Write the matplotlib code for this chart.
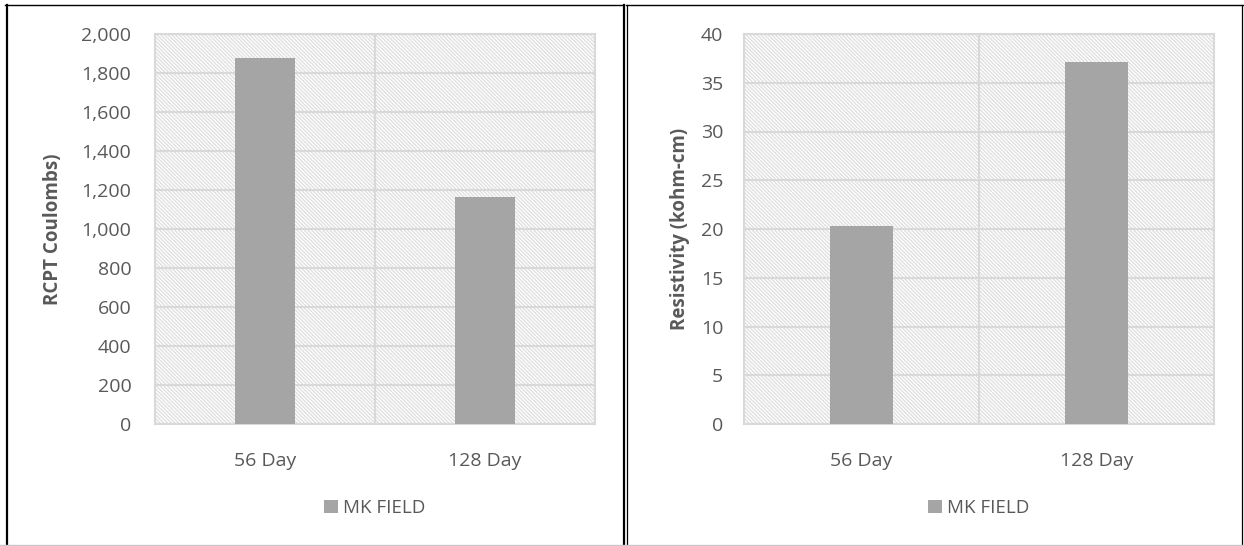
import matplotlib.pyplot as plt
from matplotlib.lines import Line2D
from matplotlib.patches import Rectangle, Patch

# data
categories = ['56 Day', '128 Day']
rcpt_values = [1877, 1165]
resistivity_values = [20.3, 37.1]
series_name = 'MK FIELD'

rcpt_ticks = [0, 200, 400, 600, 800, 1000, 1200, 1400, 1600, 1800, 2000]
res_ticks = [0, 5, 10, 15, 20, 25, 30, 35, 40]

bar_color = '#a5a5a5'
grid_color = '#d9d9d9'
text_color = '#595959'

plt.rcParams['font.family'] = ['Open Sans', 'DejaVu Sans']
plt.rcParams['hatch.color'] = '#e0e0e0'
plt.rcParams['hatch.linewidth'] = 1.0

W, H = 1244, 546
fig = plt.figure(figsize=(W / 100, H / 100), dpi=100)


def px(x0, y0, w, h):
    # pixel box (top-left origin) -> figure fraction
    return [x0 / W, 1 - (y0 + h) / H, w / W, h / H]


def draw_panel(ax, values, ticks, ylabel, fmt, ypad, lpad):
    ax.add_patch(Rectangle((0, 0), 1, 1, transform=ax.transAxes,
                           facecolor='white', edgecolor='#e0e0e0', lw=0,
                           hatch='\\' * 9, zorder=0))
    x = list(range(len(categories)))
    ax.bar(x, values, width=0.27, color=bar_color, zorder=3, label=series_name)
    ax.set_xlim(-0.5, len(categories) - 0.5)
    ax.set_ylim(ticks[0], ticks[-1])
    ax.set_yticks(ticks)
    ax.set_yticklabels([fmt(t) for t in ticks])
    ax.set_xticks(x)
    ax.set_xticklabels(categories)
    ax.set_xticks([0.5], minor=True)
    ax.grid(axis='y', color=grid_color, lw=1.5, zorder=1)
    ax.grid(axis='x', which='minor', color=grid_color, lw=1.5, zorder=1)
    ax.set_axisbelow(True)
    for s in ax.spines.values():
        s.set_color(grid_color)
        s.set_linewidth(1.5)
    ax.tick_params(axis='y', length=0, pad=ypad, labelsize=14, labelcolor=text_color)
    ax.tick_params(axis='x', which='both', length=0, pad=20, labelsize=14,
                   labelcolor=text_color)
    ax.set_ylabel(ylabel, fontsize=13.5, fontweight='bold', color=text_color,
                  labelpad=lpad)
    ax.legend(handles=[Patch(facecolor=bar_color, label=series_name)],
              loc='center', bbox_to_anchor=(0.5, -0.215), frameon=False,
              fontsize=13.5, handlelength=0.7, handleheight=0.7,
              handletextpad=0.3, labelcolor=text_color)


ax1 = fig.add_axes(px(155, 34, 440, 390))
draw_panel(ax1, rcpt_values, rcpt_ticks, 'RCPT Coulombs)',
           lambda t: f'{t:,}', 17, 13)

ax2 = fig.add_axes(px(744, 34, 470, 390))
draw_panel(ax2, resistivity_values, res_ticks, 'Resistivity (kohm-cm)',
           lambda t: f'{t}', 15, 8)


def fline(x0, y0, x1, y1, color='black', lw=1.0):
    fig.add_artist(Line2D([x0 / W, x1 / W], [1 - y0 / H, 1 - y1 / H],
                          transform=fig.transFigure, color=color, lw=lw))


# panel frames
fline(5, 5, 623, 5, lw=1.0)
fline(6.5, 5, 6.5, 546, lw=1.6)
fline(623.5, 5, 623.5, 546, lw=1.6)
fline(626.5, 5, 626.5, 546, lw=0.9)
fline(626, 5, 1244, 5, lw=1.0)
fline(1242, 5, 1242, 546, lw=0.9)
fline(0, 545, 1244, 545, color='#c8c8c8', lw=1.0)

fig.savefig('out.png', dpi=100)
